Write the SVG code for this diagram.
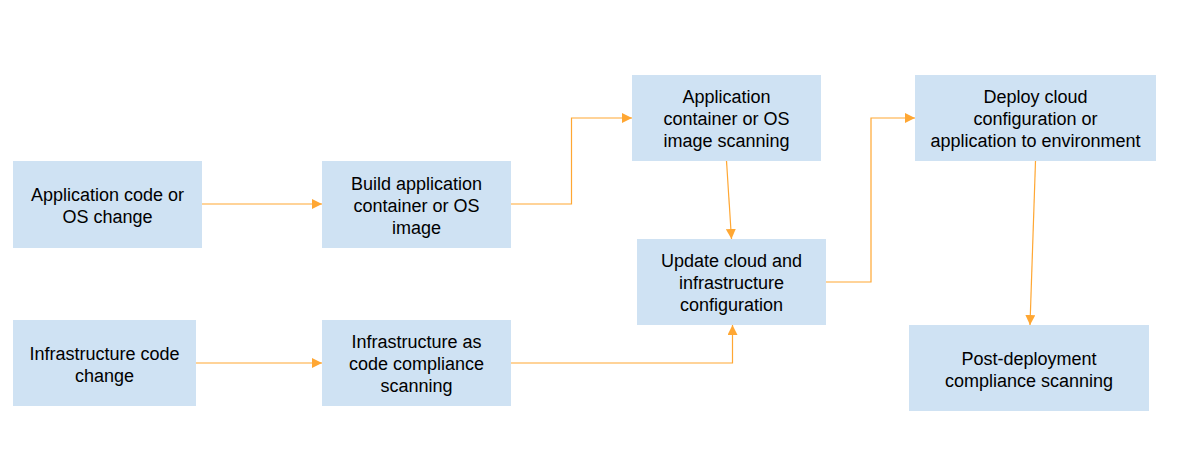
<svg xmlns="http://www.w3.org/2000/svg" width="1204" height="474" viewBox="0 0 1204 474">
<style>
.box{fill:#cfe2f3;stroke:none}
.t{font-family:"Liberation Sans",Arial,sans-serif;font-size:18px;fill:#000;text-anchor:middle}
.c{fill:none;stroke:#ffa733;stroke-width:1.2}
</style>
<defs>
<marker id="ah" viewBox="0 0 10 10" refX="10" refY="5" markerWidth="10" markerHeight="10" markerUnits="userSpaceOnUse" orient="auto">
<path d="M0,0 L10,5 L0,10 Z" fill="#ffa733"/>
</marker>
</defs>
<rect width="1204" height="474" fill="#fff"/>
<g id="connectors">
<path class="c" d="M202,204 H322" marker-end="url(#ah)"/>
<path class="c" d="M511,204 H571.5 V118 H632" marker-end="url(#ah)"/>
<path class="c" d="M726.5,161 L731.5,239" marker-end="url(#ah)"/>
<path class="c" d="M826,282 H871 V118 H915" marker-end="url(#ah)"/>
<path class="c" d="M1035.5,161 L1030,325" marker-end="url(#ah)"/>
<path class="c" d="M196,363 H322" marker-end="url(#ah)"/>
<path class="c" d="M511,363 H732.5 V325" marker-end="url(#ah)"/>
</g>
<g id="n1"><rect class="box" x="13" y="161" width="189" height="87"/>
<text class="t" x="107.5" y="200.5">Application code or</text><text class="t" x="107.5" y="222.5">OS change</text></g>
<g id="n2"><rect class="box" x="322" y="161" width="189" height="87"/>
<text class="t" x="416.5" y="189.5">Build application</text><text class="t" x="416.5" y="211.5">container or OS</text><text class="t" x="416.5" y="233.5">image</text></g>
<g id="n3"><rect class="box" x="632" y="75" width="189" height="86"/>
<text class="t" x="726.5" y="103">Application</text><text class="t" x="726.5" y="125">container or OS</text><text class="t" x="726.5" y="147">image scanning</text></g>
<g id="n4"><rect class="box" x="915" y="75" width="241" height="86"/>
<text class="t" x="1035.5" y="103">Deploy cloud</text><text class="t" x="1035.5" y="125">configuration or</text><text class="t" x="1035.5" y="147">application to environment</text></g>
<g id="n5"><rect class="box" x="637" y="239" width="189" height="86"/>
<text class="t" x="731.5" y="267">Update cloud and</text><text class="t" x="731.5" y="289">infrastructure</text><text class="t" x="731.5" y="311">configuration</text></g>
<g id="n6"><rect class="box" x="13" y="320" width="183" height="86"/>
<text class="t" x="104.5" y="359.5">Infrastructure code</text><text class="t" x="104.5" y="381.5">change</text></g>
<g id="n7"><rect class="box" x="322" y="320" width="189" height="86"/>
<text class="t" x="416.5" y="348">Infrastructure as</text><text class="t" x="416.5" y="370">code compliance</text><text class="t" x="416.5" y="392">scanning</text></g>
<g id="n8"><rect class="box" x="909" y="325" width="240" height="86"/>
<text class="t" x="1029" y="364.5">Post-deployment</text><text class="t" x="1029" y="386.5">compliance scanning</text></g>
</svg>
